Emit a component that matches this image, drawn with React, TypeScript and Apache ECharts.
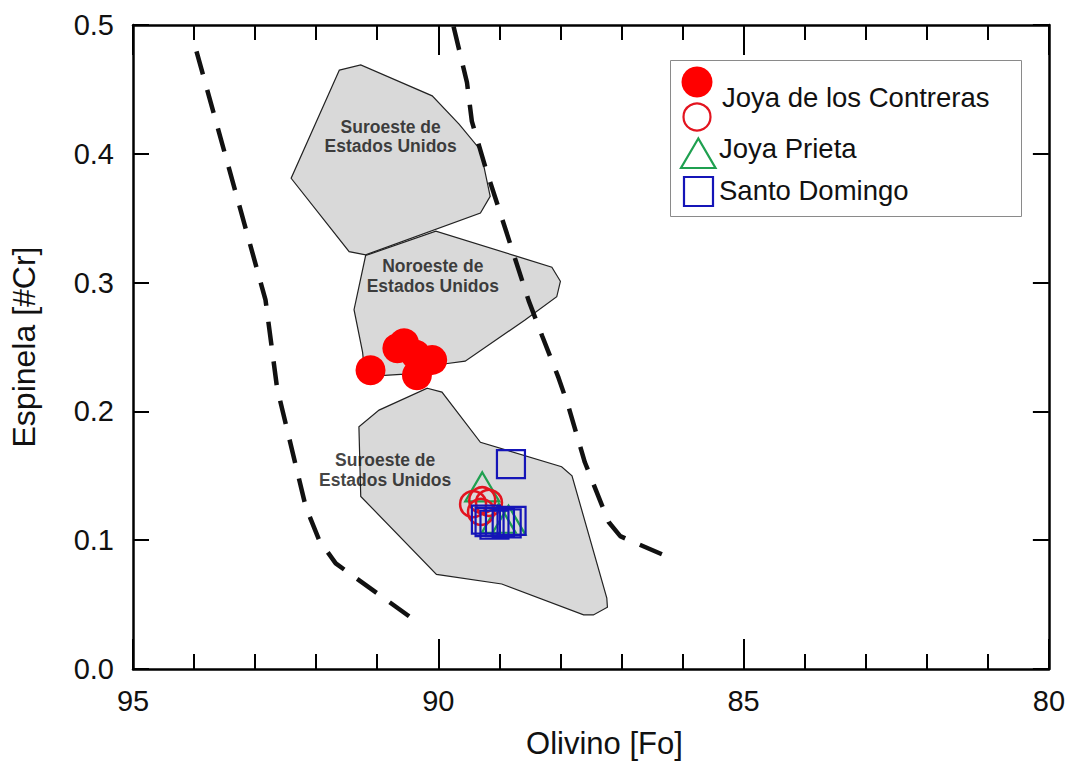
import React, { useEffect, useRef } from "react";
import * as echarts from "echarts";

const FONT = '"Liberation Sans", Arial, Helvetica, sans-serif';

// Olivine Fo (x) vs spinel #Cr (y) fields
const swNorthField: [number, number][] = [
  [91.62, 0.465], [91.27, 0.469], [90.1, 0.445], [89.66, 0.423], [89.31, 0.403],
  [89.15, 0.367], [89.31, 0.354], [91.19, 0.3215], [91.46, 0.324], [92.41, 0.381],
];
const nwField: [number, number][] = [
  [91.19, 0.321], [90.04, 0.34], [88.14, 0.312], [88.0, 0.301], [88.06, 0.289],
  [88.58, 0.271], [89.56, 0.239], [89.88, 0.237], [90.55, 0.229], [91.2, 0.227],
  [91.24, 0.246], [91.38, 0.279],
];
const swSouthField: [number, number][] = [
  [90.18, 0.218], [89.94, 0.215], [89.31, 0.176], [87.98, 0.157], [87.81, 0.15],
  [87.24, 0.055], [87.23, 0.048], [87.46, 0.042], [87.62, 0.042], [88.96, 0.066],
  [90.03, 0.0735], [91.27, 0.134], [91.3, 0.188], [90.97, 0.201],
];
const fields = [swNorthField, nwField, swSouthField];

const fieldNames = [
  "Suroeste de\nEstados Unidos",
  "Noroeste de\nEstados Unidos",
  "Suroeste de\nEstados Unidos",
];
const fieldNameAnchors: [number, number][] = [
  [90.78, 0.4135],
  [90.09, 0.3052],
  [90.87, 0.1544],
];

// Mantle array boundaries
const leftBoundary: [number, number][] = [
  [93.96, 0.4796], [92.83, 0.2866], [92.64, 0.2181], [92.17, 0.1258],
  [91.95, 0.0999], [91.68, 0.082], [90.43, 0.0393],
];
const rightBoundary: [number, number][] = [
  [89.75, 0.4988], [89.53, 0.4553], [89.45, 0.4251], [89.23, 0.3897],
  [88.52, 0.286], [88.3, 0.2587], [88.03, 0.226], [87.87, 0.2041],
  [87.6, 0.1605], [87.21, 0.1141], [87.02, 0.1032], [86.83, 0.0991], [86.23, 0.0869],
];

// Samples
const contrerasFilled: [number, number][] = [
  [91.11, 0.232], [90.67, 0.249], [90.56, 0.253], [90.37, 0.244], [90.1, 0.24], [90.35, 0.228],
];
const contrerasOpen: [number, number][] = [
  [89.43, 0.128], [89.28, 0.131], [89.17, 0.129], [89.3, 0.122],
];
const joyaPrieta: [number, number][] = [
  [89.28, 0.1414], [89.01, 0.117], [88.85, 0.1155],
];
const santoDomingo: [number, number][] = [
  [88.81, 0.159], [89.22, 0.116], [89.16, 0.114], [89.08, 0.112],
  [88.99, 0.114], [88.88, 0.113], [88.8, 0.115],
];

const RED = "#ff0000";
const RED_OPEN = "#e3141f";
const GREEN = "#1fa050";
const BLUE = "#1515b8";

const tickStyle = { color: "#000", width: 2 };

function makeXAxis(position: "bottom" | "top", withLabels: boolean) {
  return {
    type: "value",
    position,
    min: 80,
    max: 95,
    interval: 5,
    inverse: true,
    axisLine: { onZero: false, lineStyle: { color: "#000", width: 2.5 } },
    axisTick: { inside: true, length: 30, lineStyle: tickStyle },
    minorTick: { show: true, splitNumber: 5, length: 15, lineStyle: tickStyle },
    splitLine: { show: false },
    minorSplitLine: { show: false },
    axisLabel: {
      show: withLabels,
      fontSize: 29,
      color: "#111",
      fontFamily: FONT,
      margin: 17,
    },
    ...(withLabels
      ? {
          name: "Olivino [Fo]",
          nameLocation: "middle",
          nameGap: 59,
          nameTextStyle: {
            fontSize: 31,
            color: "#111",
            fontFamily: FONT,
            padding: [0, 0, 0, 27],
          },
        }
      : {}),
  };
}

function makeYAxis(position: "left" | "right", withLabels: boolean) {
  return {
    type: "value",
    position,
    min: 0,
    max: 0.5,
    interval: 0.1,
    axisLine: { onZero: false, lineStyle: { color: "#000", width: 2.5 } },
    axisTick: { inside: true, length: 16, lineStyle: tickStyle },
    splitLine: { show: false },
    axisLabel: {
      show: withLabels,
      fontSize: 29,
      color: "#111",
      fontFamily: FONT,
      margin: 19,
      formatter: (v: number) => v.toFixed(1),
    },
    ...(withLabels
      ? {
          name: "Espinela [#Cr]",
          nameLocation: "middle",
          nameGap: 93,
          nameTextStyle: { fontSize: 32, color: "#111", fontFamily: FONT },
        }
      : {}),
  };
}

function legendGraphic() {
  const textStyle = { fontSize: 27.5, fontFamily: FONT, fill: "#111" };
  return [
    {
      type: "rect",
      shape: { x: 670.5, y: 60.5, width: 351, height: 156 },
      style: { fill: "#fff", stroke: "#8a8a8a", lineWidth: 1 },
      z: 50,
    },
    {
      type: "circle",
      shape: { cx: 697, cy: 82, r: 15.5 },
      style: { fill: RED },
      z: 51,
    },
    {
      type: "circle",
      shape: { cx: 697, cy: 117, r: 13.5 },
      style: { fill: "none", stroke: RED_OPEN, lineWidth: 2.2 },
      z: 51,
    },
    {
      type: "text",
      x: 722,
      y: 97,
      style: { ...textStyle, text: "Joya de los Contreras", verticalAlign: "middle" },
      z: 51,
    },
    {
      type: "polygon",
      shape: { points: [[698.3, 138.5], [681, 168], [715.5, 168]] },
      style: { fill: "none", stroke: GREEN, lineWidth: 2.2 },
      z: 51,
    },
    {
      type: "text",
      x: 719,
      y: 148,
      style: { ...textStyle, text: "Joya Prieta", verticalAlign: "middle" },
      z: 51,
    },
    {
      type: "rect",
      shape: { x: 684, y: 177, width: 29, height: 29 },
      style: { fill: "none", stroke: BLUE, lineWidth: 2.2 },
      z: 51,
    },
    {
      type: "text",
      x: 719,
      y: 190,
      style: { ...textStyle, text: "Santo Domingo", verticalAlign: "middle" },
      z: 51,
    },
  ];
}

export default function App() {
  const ref = useRef<HTMLDivElement>(null);

  useEffect(() => {
    if (!ref.current) return;
    const chart = echarts.init(ref.current, undefined, { renderer: "svg" });

    const boundaryLine = (data: [number, number][]) => ({
      type: "line",
      data,
      showSymbol: false,
      symbol: "none",
      silent: true,
      z: 3,
      lineStyle: { color: "#111", width: 4.5, type: [24, 16], cap: "butt" },
    });

    chart.setOption({
      animation: false,
      backgroundColor: "#fff",
      textStyle: { fontFamily: FONT },
      grid: { left: 133, right: 16, top: 25, bottom: 96, containLabel: false },
      xAxis: [makeXAxis("bottom", true), makeXAxis("top", false)],
      yAxis: [makeYAxis("left", true), makeYAxis("right", false)],
      series: [
        {
          type: "custom",
          name: "fields",
          silent: true,
          z: 1,
          data: fields.map((f, i) => [f[0][0], f[0][1], i]),
          encode: { x: 0, y: 1 },
          renderItem: (_params: any, api: any) => {
            const poly = fields[api.value(2)];
            return {
              type: "polygon",
              shape: { points: poly.map((p) => api.coord(p)) },
              style: { fill: "#d9d9d9", stroke: "#222", lineWidth: 1.2 },
            };
          },
        },
        boundaryLine(leftBoundary),
        boundaryLine(rightBoundary),
        {
          type: "scatter",
          name: "field names",
          silent: true,
          z: 4,
          symbolSize: 0,
          data: fieldNameAnchors.map((v, i) => ({ value: v, name: fieldNames[i] })),
          label: {
            show: true,
            position: "inside",
            formatter: (p: any) => p.name,
            fontSize: 17.5,
            fontWeight: "bold",
            lineHeight: 19.5,
            color: "#111",
            fontFamily: FONT,
            align: "center",
          },
        },
        {
          type: "scatter",
          name: "Joya de los Contreras",
          z: 5,
          symbol: "circle",
          symbolSize: 30,
          itemStyle: { color: RED, opacity: 1 },
          data: contrerasFilled,
        },
        {
          type: "scatter",
          name: "Joya Prieta",
          z: 5,
          symbol: "triangle",
          symbolSize: [34, 29],
          itemStyle: { color: "rgba(0,0,0,0)", borderColor: GREEN, borderWidth: 2.2, opacity: 1 },
          data: joyaPrieta,
        },
        {
          type: "scatter",
          name: "Joya de los Contreras (abierto)",
          z: 5,
          symbol: "circle",
          symbolSize: 26,
          itemStyle: { color: "rgba(0,0,0,0)", borderColor: RED_OPEN, borderWidth: 2.5, opacity: 1 },
          data: contrerasOpen,
        },
        {
          type: "scatter",
          name: "Santo Domingo",
          z: 5,
          symbol: "rect",
          symbolSize: 28,
          itemStyle: { color: "rgba(0,0,0,0)", borderColor: BLUE, borderWidth: 2.2, opacity: 1 },
          data: santoDomingo,
        },
      ],
      graphic: legendGraphic(),
    });

    return () => chart.dispose();
  }, []);

  return (
    <div
      ref={ref}
      style={{ position: "fixed", left: 0, top: 0, width: 1068, height: 765, background: "#fff" }}
    />
  );
}
